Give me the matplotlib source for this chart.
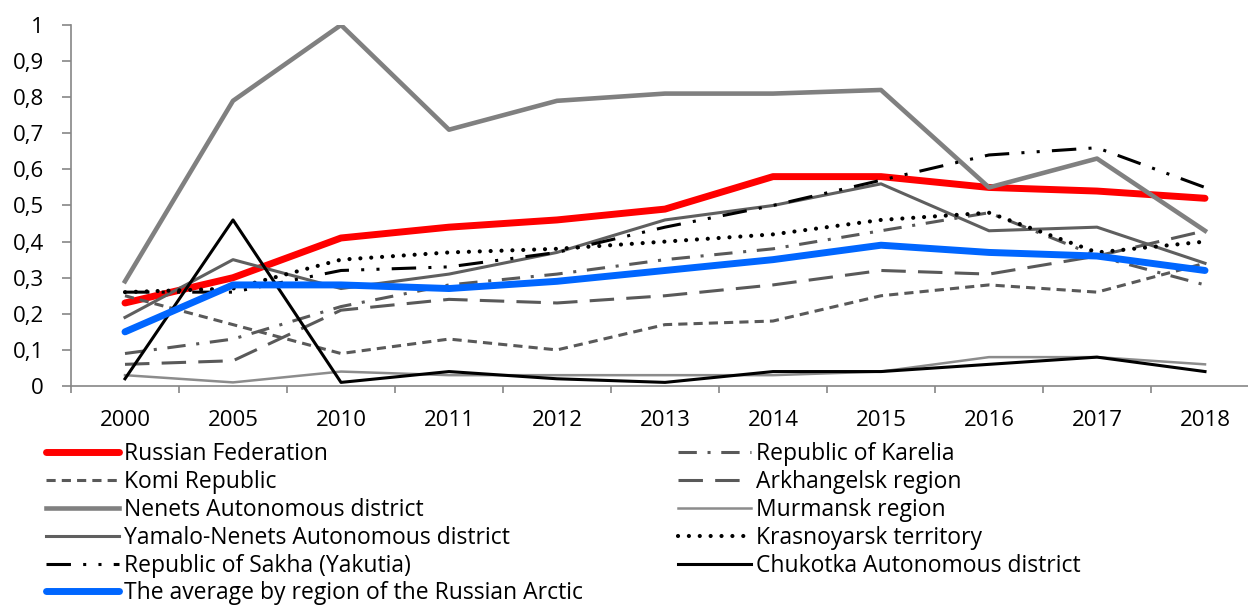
import matplotlib.pyplot as plt

plt.rcParams['font.family'] = ['Open Sans', 'DejaVu Sans']

years = ["2000", "2005", "2010", "2011", "2012", "2013", "2014", "2015", "2016", "2017", "2018"]

russian_federation = [0.23, 0.30, 0.41, 0.44, 0.46, 0.49, 0.58, 0.58, 0.55, 0.54, 0.52]
karelia = [0.09, 0.13, 0.22, 0.28, 0.31, 0.35, 0.38, 0.43, 0.48, 0.36, 0.28]
komi = [0.25, 0.17, 0.09, 0.13, 0.10, 0.17, 0.18, 0.25, 0.28, 0.26, 0.34]
arkhangelsk = [0.06, 0.07, 0.21, 0.24, 0.23, 0.25, 0.28, 0.32, 0.31, 0.36, 0.43]
nenets = [0.29, 0.79, 1.00, 0.71, 0.79, 0.81, 0.81, 0.82, 0.55, 0.63, 0.43]
murmansk = [0.03, 0.01, 0.04, 0.03, 0.03, 0.03, 0.03, 0.04, 0.08, 0.08, 0.06]
yamalo = [0.19, 0.35, 0.27, 0.31, 0.37, 0.46, 0.50, 0.56, 0.43, 0.44, 0.34]
krasnoyarsk = [0.26, 0.27, 0.35, 0.37, 0.38, 0.40, 0.42, 0.46, 0.48, 0.37, 0.40]
sakha = [0.26, 0.26, 0.32, 0.33, 0.37, 0.44, 0.50, 0.57, 0.64, 0.66, 0.55]
chukotka = [0.02, 0.46, 0.01, 0.04, 0.02, 0.01, 0.04, 0.04, 0.06, 0.08, 0.04]
arctic_avg = [0.15, 0.28, 0.28, 0.27, 0.29, 0.32, 0.35, 0.39, 0.37, 0.36, 0.32]

fig = plt.figure(figsize=(12.48, 6.06), dpi=100)
W, H = 1248, 606
# plot area runs a little past the right edge, as in the source
ax = fig.add_axes([71 / W, (H - 386) / H, 1188 / W, 361 / H])

x = list(range(len(years)))
DG = "#595959"

series = [
    ("Russian Federation", russian_federation, dict(color="#ff0000", lw=5.0, solid_capstyle="round")),
    ("Republic of Karelia", karelia, dict(color=DG, lw=2.2, dashes=(6, 3.5, 1, 3.5))),
    ("Komi Republic", komi, dict(color=DG, lw=2.2, dashes=(3, 2))),
    ("Arkhangelsk region", arkhangelsk, dict(color=DG, lw=2.2, dashes=(8, 4))),
    ("Nenets Autonomous district", nenets, dict(color="#808080", lw=3.3)),
    ("Murmansk region", murmansk, dict(color="#8c8c8c", lw=1.8)),
    ("Yamalo-Nenets Autonomous district", yamalo, dict(color="#5f5f5f", lw=2.2)),
    ("Krasnoyarsk territory", krasnoyarsk, dict(color="black", lw=3.0, dashes=(0.01, 2.6),
                                                  dash_capstyle="round")),
    ("Republic of Sakha (Yakutia)", sakha, dict(color="black", lw=2.2, dashes=(8, 4, 1, 4, 1, 4))),
    ("Chukotka Autonomous district", chukotka, dict(color="black", lw=2.2)),
    ("The average by region of the Russian Arctic", arctic_avg,
     dict(color="#0066ff", lw=5.0, solid_capstyle="round")),
]

handles = {}
for label, data, kw in series:
    ln, = ax.plot(x, data, label=label, **kw)
    handles[label] = ln

ax.set_xlim(-0.5, len(years) - 0.5)
ax.set_ylim(0, 1)
ax.set_xticks(x)
ax.set_xticklabels(years)
ax.set_xticks([i - 0.5 for i in range(len(years) + 1)], minor=True)
ax.tick_params(axis="x", which="major", length=0, pad=17, labelsize=16)
ax.tick_params(axis="x", which="minor", length=5, width=1.2, color="#868686", direction="out")

yt = [i / 10 for i in range(11)]
ax.set_yticks(yt)
ax.set_yticklabels(["0" if v == 0 else "1" if v == 1 else f"{v:.1f}".replace(".", ",") for v in yt])
ax.tick_params(axis="y", length=6.5, width=1.2, color="#868686", labelsize=16, pad=13)

for s in ("top", "right"):
    ax.spines[s].set_visible(False)
for s in ("left", "bottom"):
    ax.spines[s].set_color("#868686")
    ax.spines[s].set_linewidth(1.2)

left_col = ["Russian Federation", "Komi Republic", "Nenets Autonomous district",
            "Yamalo-Nenets Autonomous district", "Republic of Sakha (Yakutia)",
            "The average by region of the Russian Arctic"]
right_col = ["Republic of Karelia", "Arkhangelsk region", "Murmansk region",
             "Krasnoyarsk territory", "Chukotka Autonomous district"]

leg_kw = dict(frameon=False, fontsize=16.5, handlelength=3.2, handletextpad=0.22,
              labelspacing=0.17, borderaxespad=0, borderpad=0)
fig.legend([handles[k] for k in left_col], left_col, loc="upper left",
           bbox_to_anchor=(46 / W, 1 - 442 / H), **leg_kw)
fig.legend([handles[k] for k in right_col], right_col, loc="upper left",
           bbox_to_anchor=(678 / W, 1 - 442 / H), **leg_kw)

fig.savefig("out.png", dpi=100)
